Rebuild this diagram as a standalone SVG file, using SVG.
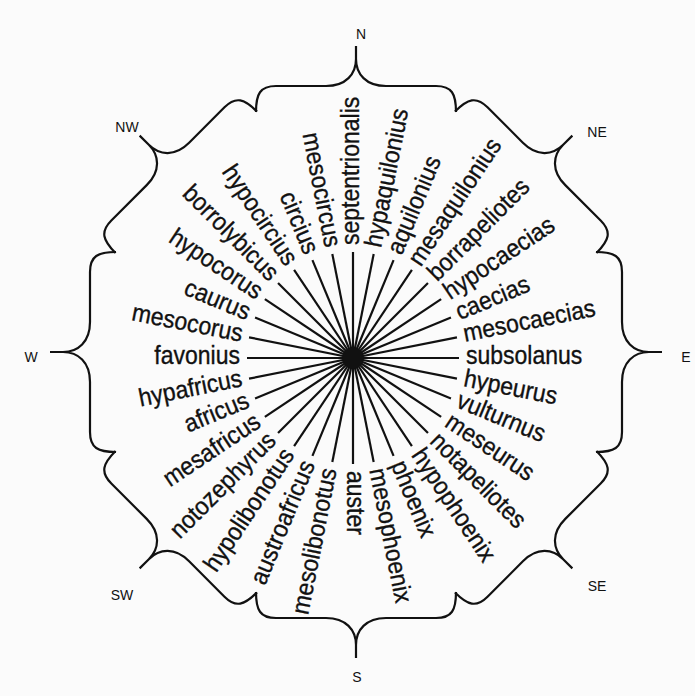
<svg xmlns="http://www.w3.org/2000/svg" xmlns:xlink="http://www.w3.org/1999/xlink" width="695" height="696" viewBox="0 0 695 696">
<style>
.w{font-family:"Liberation Sans",Arial,sans-serif;font-size:25px;fill:#111;stroke:#111;stroke-width:0.35}
.r{text-anchor:start}
.l{text-anchor:end}
.c{font-family:"Liberation Sans",Arial,sans-serif;font-size:14px;fill:#111;text-anchor:middle}
.sp line{stroke:#111;stroke-width:2.2}
.br{fill:none;stroke:#111;stroke-width:2.2}
</style>
<defs>
<path id="brace" d="M -100,-240 C -100,-258 -96,-266 -80,-266 L -30,-266 C -10,-266 0,-278 0,-293 L 0,-306 M 0,-293 C 0,-278 10,-266 30,-266 L 80,-266 C 96,-266 100,-258 100,-240"/>
</defs>
<rect width="695" height="696" fill="#fbfbfb"/>
<g id="outline" class="br" transform="translate(356,352)">
<use xlink:href="#brace" href="#brace"/>
<use xlink:href="#brace" href="#brace" transform="rotate(45)"/>
<use xlink:href="#brace" href="#brace" transform="rotate(90)"/>
<use xlink:href="#brace" href="#brace" transform="rotate(135)"/>
<use xlink:href="#brace" href="#brace" transform="rotate(180)"/>
<use xlink:href="#brace" href="#brace" transform="rotate(225)"/>
<use xlink:href="#brace" href="#brace" transform="rotate(270)"/>
<use xlink:href="#brace" href="#brace" transform="rotate(315)"/>
</g>
<g id="compass">
<text class="c" x="361" y="39">N</text>
<text class="c" x="597" y="137">NE</text>
<text class="c" x="686" y="362">E</text>
<text class="c" x="597" y="591">SE</text>
<text class="c" x="357" y="682">S</text>
<text class="c" x="122" y="600">SW</text>
<text class="c" x="31" y="362">W</text>
<text class="c" x="127" y="132">NW</text>
</g>
<g id="spokes" class="sp" transform="translate(353,358)">
<line x1="0" y1="0" x2="106" y2="0" transform="rotate(-90)"/>
<line x1="0" y1="0" x2="106" y2="0" transform="rotate(-78.75)"/>
<line x1="0" y1="0" x2="106" y2="0" transform="rotate(-67.5)"/>
<line x1="0" y1="0" x2="106" y2="0" transform="rotate(-56.25)"/>
<line x1="0" y1="0" x2="106" y2="0" transform="rotate(-45)"/>
<line x1="0" y1="0" x2="106" y2="0" transform="rotate(-33.75)"/>
<line x1="0" y1="0" x2="106" y2="0" transform="rotate(-22.5)"/>
<line x1="0" y1="0" x2="106" y2="0" transform="rotate(-11.25)"/>
<line x1="0" y1="0" x2="106" y2="0" transform="rotate(0)"/>
<line x1="0" y1="0" x2="106" y2="0" transform="rotate(11.25)"/>
<line x1="0" y1="0" x2="106" y2="0" transform="rotate(22.5)"/>
<line x1="0" y1="0" x2="106" y2="0" transform="rotate(33.75)"/>
<line x1="0" y1="0" x2="106" y2="0" transform="rotate(45)"/>
<line x1="0" y1="0" x2="106" y2="0" transform="rotate(56.25)"/>
<line x1="0" y1="0" x2="106" y2="0" transform="rotate(67.5)"/>
<line x1="0" y1="0" x2="106" y2="0" transform="rotate(78.75)"/>
<line x1="0" y1="0" x2="106" y2="0" transform="rotate(90)"/>
<line x1="0" y1="0" x2="106" y2="0" transform="rotate(101.25)"/>
<line x1="0" y1="0" x2="106" y2="0" transform="rotate(112.5)"/>
<line x1="0" y1="0" x2="106" y2="0" transform="rotate(123.75)"/>
<line x1="0" y1="0" x2="106" y2="0" transform="rotate(135)"/>
<line x1="0" y1="0" x2="106" y2="0" transform="rotate(146.25)"/>
<line x1="0" y1="0" x2="106" y2="0" transform="rotate(157.5)"/>
<line x1="0" y1="0" x2="106" y2="0" transform="rotate(168.75)"/>
<line x1="0" y1="0" x2="106" y2="0" transform="rotate(180)"/>
<line x1="0" y1="0" x2="106" y2="0" transform="rotate(191.25)"/>
<line x1="0" y1="0" x2="106" y2="0" transform="rotate(202.5)"/>
<line x1="0" y1="0" x2="106" y2="0" transform="rotate(213.75)"/>
<line x1="0" y1="0" x2="106" y2="0" transform="rotate(225)"/>
<line x1="0" y1="0" x2="106" y2="0" transform="rotate(236.25)"/>
<line x1="0" y1="0" x2="106" y2="0" transform="rotate(247.5)"/>
<line x1="0" y1="0" x2="106" y2="0" transform="rotate(258.75)"/>
<circle cx="0" cy="0" r="10.5" fill="#111"/>
</g>
<g id="winds" class="w" transform="translate(353,358)">
<g id="septentrionalis"><text class="r" dy="6" transform="rotate(-90) translate(113,0) scale(0.92,1)">septentrionalis</text></g>
<g id="hypaquilonius"><text class="r" dy="6" transform="rotate(-78.75) translate(113,0) scale(0.92,1)">hypaquilonius</text></g>
<g id="aquilonius"><text class="r" dy="6" transform="rotate(-67.5) translate(113,0) scale(0.92,1)">aquilonius</text></g>
<g id="mesaquilonius"><text class="r" dy="6" transform="rotate(-56.25) translate(113,0) scale(0.92,1)">mesaquilonius</text></g>
<g id="borrapeliotes"><text class="r" dy="6" transform="rotate(-45) translate(113,0) scale(0.92,1)">borrapeliotes</text></g>
<g id="hypocaecias"><text class="r" dy="6" transform="rotate(-33.75) translate(113,0) scale(0.92,1)">hypocaecias</text></g>
<g id="caecias"><text class="r" dy="6" transform="rotate(-22.5) translate(113,0) scale(0.92,1)">caecias</text></g>
<g id="mesocaecias"><text class="r" dy="6" transform="rotate(-11.25) translate(113,0) scale(0.92,1)">mesocaecias</text></g>
<g id="subsolanus"><text class="r" dy="6" transform="rotate(0) translate(113,0) scale(0.92,1)">subsolanus</text></g>
<g id="hypeurus"><text class="r" dy="6" transform="rotate(11.25) translate(113,0) scale(0.92,1)">hypeurus</text></g>
<g id="vulturnus"><text class="r" dy="6" transform="rotate(22.5) translate(113,0) scale(0.92,1)">vulturnus</text></g>
<g id="meseurus"><text class="r" dy="6" transform="rotate(33.75) translate(113,0) scale(0.92,1)">meseurus</text></g>
<g id="notapeliotes"><text class="r" dy="6" transform="rotate(45) translate(113,0) scale(0.92,1)">notapeliotes</text></g>
<g id="hypophoenix"><text class="r" dy="6" transform="rotate(56.25) translate(113,0) scale(0.92,1)">hypophoenix</text></g>
<g id="phoenix"><text class="r" dy="6" transform="rotate(67.5) translate(113,0) scale(0.92,1)">phoenix</text></g>
<g id="mesophoenix"><text class="r" dy="6" transform="rotate(78.75) translate(113,0) scale(0.92,1)">mesophoenix</text></g>
<g id="auster"><text class="r" dy="6" transform="rotate(90) translate(113,0) scale(0.92,1)">auster</text></g>
<g id="mesolibonotus"><text class="l" dy="6" transform="rotate(101.25) translate(113,0) rotate(180) scale(0.92,1)">mesolibonotus</text></g>
<g id="austroafricus"><text class="l" dy="6" transform="rotate(112.5) translate(113,0) rotate(180) scale(0.92,1)">austroafricus</text></g>
<g id="hypolibonotus"><text class="l" dy="6" transform="rotate(123.75) translate(113,0) rotate(180) scale(0.92,1)">hypolibonotus</text></g>
<g id="notozephyrus"><text class="l" dy="6" transform="rotate(135) translate(113,0) rotate(180) scale(0.92,1)">notozephyrus</text></g>
<g id="mesafricus"><text class="l" dy="6" transform="rotate(146.25) translate(113,0) rotate(180) scale(0.92,1)">mesafricus</text></g>
<g id="africus"><text class="l" dy="6" transform="rotate(157.5) translate(113,0) rotate(180) scale(0.92,1)">africus</text></g>
<g id="hypafricus"><text class="l" dy="6" transform="rotate(168.75) translate(113,0) rotate(180) scale(0.92,1)">hypafricus</text></g>
<g id="favonius"><text class="l" dy="6" transform="rotate(180) translate(113,0) rotate(180) scale(0.92,1)">favonius</text></g>
<g id="mesocorus"><text class="l" dy="6" transform="rotate(191.25) translate(113,0) rotate(180) scale(0.92,1)">mesocorus</text></g>
<g id="caurus"><text class="l" dy="6" transform="rotate(202.5) translate(113,0) rotate(180) scale(0.92,1)">caurus</text></g>
<g id="hypocorus"><text class="l" dy="6" transform="rotate(213.75) translate(113,0) rotate(180) scale(0.92,1)">hypocorus</text></g>
<g id="borrolybicus"><text class="l" dy="6" transform="rotate(225) translate(113,0) rotate(180) scale(0.92,1)">borrolybicus</text></g>
<g id="hypocircius"><text class="l" dy="6" transform="rotate(236.25) translate(113,0) rotate(180) scale(0.92,1)">hypocircius</text></g>
<g id="circius"><text class="l" dy="6" transform="rotate(247.5) translate(113,0) rotate(180) scale(0.92,1)">circius</text></g>
<g id="mesocircus"><text class="l" dy="6" transform="rotate(258.75) translate(113,0) rotate(180) scale(0.92,1)">mesocircus</text></g>
</g>
</svg>
